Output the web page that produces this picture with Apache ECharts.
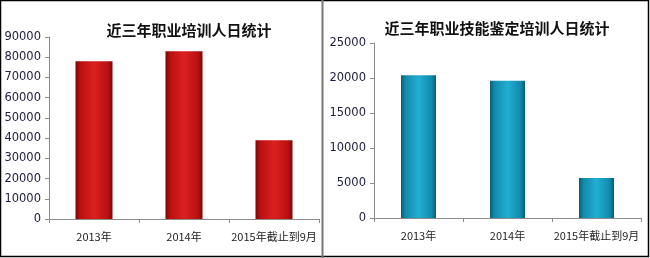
<!DOCTYPE html>
<html><head><meta charset="utf-8">
<script src="https://cdn.jsdelivr.net/npm/echarts@6/dist/echarts.min.js"></script>
<style>html,body{margin:0;padding:0;background:#fff}#c{width:650px;height:258px}</style>
</head><body><div id="c"></div>
<script>
const categories = ['2013年', '2014年', '2015年截止到9月'];
const trainingDays = [78000, 83000, 39000];
const appraisalDays = [20400, 19600, 5700];
const titleLeft = '近三年职业培训人日统计';
const titleRight = '近三年职业技能鉴定培训人日统计';

const chart = echarts.init(document.getElementById('c'), null, {renderer: 'canvas'});
function grad(edge, mid, light) {
  return new echarts.graphic.LinearGradient(0, 0, 1, 0, [
    {offset: 0, color: edge}, {offset: 0.12, color: mid}, {offset: 0.5, color: light},
    {offset: 0.88, color: mid}, {offset: 1, color: edge}]);
}
const axisLabelY = {color: '#1c1c3c', fontFamily: 'DejaVu Sans', fontSize: 11.5, margin: 8, formatter: v => String(v)};
const axisLabelX = {color: '#222', fontFamily: 'Noto Sans CJK SC', fontSize: 11, margin: 12, interval: 0};
const axisLine = {show: true, lineStyle: {color: '#8c8c8c', width: 1}};
const tick = {show: true, length: 4, lineStyle: {color: '#8c8c8c'}};
chart.setOption({
  animation: false,
  title: [
    {text: titleLeft, left: 184, top: 18, textAlign: 'center',
     textStyle: {fontFamily: 'Noto Sans CJK SC', fontWeight: 'bold', fontSize: 15, color: '#111'}},
    {text: titleRight, left: 492, top: 16, textAlign: 'center',
     textStyle: {fontFamily: 'Noto Sans CJK SC', fontWeight: 'bold', fontSize: 15, color: '#111'}}
  ],
  grid: [
    {left: 49, right: 331, top: 37, bottom: 39},
    {left: 374, right: 9, top: 43, bottom: 40}
  ],
  xAxis: [
    {gridIndex: 0, type: 'category', data: categories, axisLine, axisTick: tick, axisLabel: axisLabelX},
    {gridIndex: 1, type: 'category', data: categories, axisLine, axisTick: tick, axisLabel: axisLabelX}
  ],
  yAxis: [
    {gridIndex: 0, type: 'value', min: 0, max: 90000, interval: 10000, axisLine, axisTick: tick, splitLine: {show: false}, axisLabel: axisLabelY},
    {gridIndex: 1, type: 'value', min: 0, max: 25000, interval: 5000, axisLine, axisTick: tick, splitLine: {show: false}, axisLabel: axisLabelY}
  ],
  series: [
    {type: 'bar', xAxisIndex: 0, yAxisIndex: 0, data: trainingDays, barWidth: 37,
     itemStyle: {color: grad('#7a0606', '#b81010', '#dc2020')}},
    {type: 'bar', xAxisIndex: 1, yAxisIndex: 1, data: appraisalDays, barWidth: 35,
     itemStyle: {color: grad('#0a5c74', '#1189ab', '#22aed3')}}
  ],
  graphic: [
    {type: 'rect', shape: {x: 0.5, y: 0.5, width: 648, height: 256}, style: {fill: 'none', stroke: '#000', lineWidth: 1.5}},
    {type: 'line', shape: {x1: 322.5, y1: 0, x2: 322.5, y2: 258}, style: {stroke: '#777', lineWidth: 2}}
  ]
});
</script></body></html>
